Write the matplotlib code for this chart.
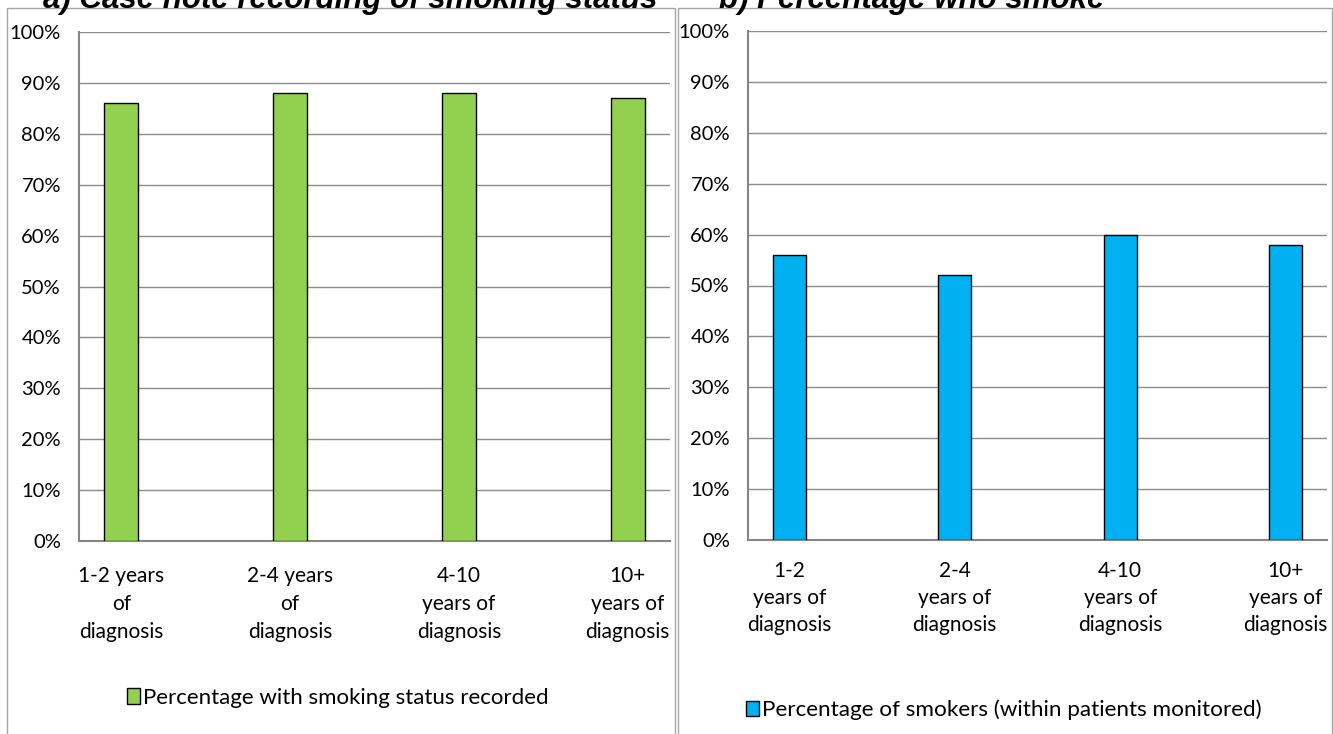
import matplotlib
matplotlib.use('Agg')
import matplotlib.pyplot as plt
from matplotlib.patches import Rectangle, Patch
from matplotlib.ticker import FuncFormatter

plt.rc('font', family=['Lato', 'DejaVu Sans'], size=14)

# data
left_labels = ['1-2 years\nof\ndiagnosis', '2-4 years\nof\ndiagnosis',
               '4-10\nyears of\ndiagnosis', '10+\nyears of\ndiagnosis']
right_labels = ['1-2\nyears of\ndiagnosis', '2-4\nyears of\ndiagnosis',
                '4-10\nyears of\ndiagnosis', '10+\nyears of\ndiagnosis']
recorded = [86, 88, 88, 87]
smokers = [56, 52, 60, 58]
left_title = 'a) Case note recording of smoking status'
right_title = 'b) Percentage who smoke'
left_legend = 'Percentage with smoking status recorded'
right_legend = 'Percentage of smokers (within patients monitored)'

W, H = 1333, 734
fig = plt.figure(figsize=(W / 100, H / 100), dpi=100)


def px_axes(x0, x1, y0, y1):
    # pixel box (top-left origin) -> figure axes
    return fig.add_axes([x0 / W, 1 - y1 / H, (x1 - x0) / W, (y1 - y0) / H])


pct = FuncFormatter(lambda v, pos: '%d%%' % v)


def style(ax, labels, xpad, lsp):
    ax.set_ylim(0, 100)
    ax.set_yticks(range(0, 101, 10))
    ax.yaxis.set_major_formatter(pct)
    ax.set_xlim(-0.25, 3.25)
    ax.set_xticks(range(len(labels)))
    ax.set_xticklabels(labels, linespacing=lsp, fontsize=15)
    ax.grid(axis='y', color='#8c8c8c', lw=1)
    ax.set_axisbelow(True)
    for s in ['top', 'right']:
        ax.spines[s].set_visible(False)
    for s in ['left', 'bottom']:
        ax.spines[s].set_color('#868686')
        ax.spines[s].set_linewidth(1.5)
    ax.tick_params(axis='both', length=0, colors='black')
    ax.tick_params(axis='y', pad=13, labelsize=14.5)
    ax.tick_params(axis='x', pad=xpad)


ax1 = px_axes(79, 670, 32, 541)
ax1.bar(range(len(recorded)), recorded, width=0.2, color='#92D050',
        edgecolor='black', lw=1, zorder=3)
style(ax1, left_labels, 18, 1.5)

ax2 = px_axes(748, 1327, 31, 540)
ax2.bar(range(len(smokers)), smokers, width=0.2, color='#00B0F0',
        edgecolor='black', lw=1, zorder=3)
style(ax2, right_labels, 15, 1.45)

# chart borders
for x0, x1 in [(7, 675), (678, 1332)]:
    fig.patches.append(Rectangle((x0 / W, -0.05), (x1 - x0) / W, 1 - 8 / H + 0.05,
                                 transform=fig.transFigure, fill=False,
                                 edgecolor='#a6a6a6', lw=1))

# titles (cut off at top, as in the source image)
fig.text(350 / W, 1 - 8 / H, left_title, ha='center', va='baseline',
         fontsize=22.5, fontweight='bold', fontstyle='italic', family='Liberation Sans')
fig.text(912 / W, 1 - 8 / H, right_title, ha='center', va='baseline',
         fontsize=22.5, fontweight='bold', fontstyle='italic', family='Liberation Sans')

# legends
fig.legend(handles=[Patch(facecolor='#92D050', edgecolor='black', label=left_legend)],
           loc='center', bbox_to_anchor=(338 / W, 1 - 698 / H), frameon=False,
           handlelength=0.55, handleheight=0.7, handletextpad=0.15, fontsize=16)
fig.legend(handles=[Patch(facecolor='#00B0F0', edgecolor='black', label=right_legend)],
           loc='center', bbox_to_anchor=(1004 / W, 1 - 710 / H), frameon=False,
           handlelength=0.55, handleheight=0.7, handletextpad=0.15, fontsize=16.2)

fig.savefig('out.png', dpi=100)
